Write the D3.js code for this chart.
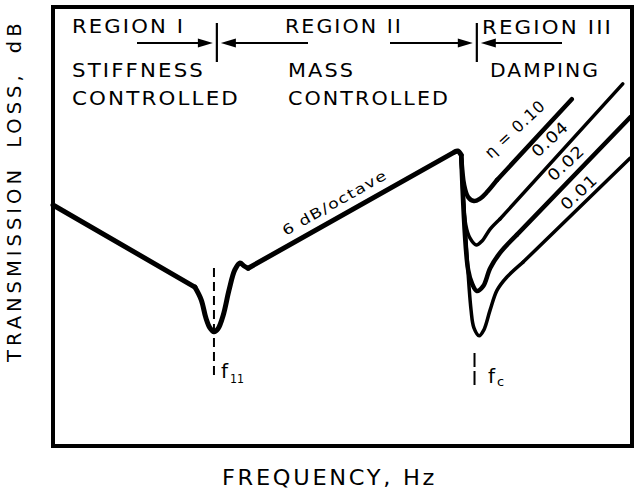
<!DOCTYPE html>
<html><head><meta charset="utf-8">
<script src="https://cdn.jsdelivr.net/npm/d3@7"></script>
<style>html,body{margin:0;padding:0;background:#fff;}svg{display:block;}</style>
</head><body>
<svg id="c" width="640" height="497"></svg>
<script>
// Frequency (relative, 0-100 across the plot) and transmission loss (relative dB, 0-100)
const mainFreq = [0, 24.5, 25.6, 26.4, 27.1, 27.8, 28.5, 29.4, 30.4, 31.4, 32.3, 33.0, 33.7, 69.4, 69.9, 70.5];
const mainTL   = [54.9, 36.2, 33.3, 29.2, 26.9, 26.0, 26.7, 29.8, 35.5, 40.1, 41.7, 41.0, 40.5, 67.0, 67.2, 66.3];

const dampLabels = ["η = 0.10", "0.04", "0.02", "0.01"];
const damp010Freq = [70.5, 71.0, 71.7, 72.7, 73.7, 75.0, 76.7, 89.6];
const damp010TL   = [66.3, 59.5, 56.7, 55.8, 56.3, 57.9, 60.6, 79.0];
const damp004Freq = [70.5, 71.3, 72.0, 73.1, 74.1, 75.5, 77.2, 98.4];
const damp004TL   = [66.3, 50.3, 47.4, 45.8, 46.7, 49.4, 51.7, 82.5];
const damp002Freq = [70.5, 71.7, 72.4, 73.2, 74.3, 75.5, 77.2, 80.1, 99.7];
const damp002TL   = [66.3, 40.1, 36.9, 35.3, 36.4, 40.5, 44.0, 48.1, 74.9];
const damp001Freq = [70.5, 72.2, 72.7, 73.6, 74.4, 75.5, 76.7, 78.4, 81.2, 99.7];
const damp001TL   = [66.3, 31.0, 26.9, 25.1, 26.4, 31.0, 35.5, 38.5, 41.9, 65.6];

const f11 = 27.8, fc = 72.8;   // characteristic frequencies
const regionBounds = [28.3, 73.2];

const svg = d3.select("#c");
const W = 640, H = 497;
const m = {left: 53, right: 8, top: 7, bottom: 51};
const x = d3.scaleLinear().domain([0, 100]).range([m.left, W - m.right]);
const y = d3.scaleLinear().domain([0, 100]).range([H - m.bottom, m.top]);
const FONT = "'DejaVu Sans', Verdana, sans-serif";

// frame
svg.append("rect").attr("x", x(0)).attr("y", y(100)).attr("width", x(100) - x(0)).attr("height", y(0) - y(100))
  .attr("fill", "none").attr("stroke", "#000").attr("stroke-width", 4);

const smooth = d3.line().x(d => x(d[0])).y(d => y(d[1])).curve(d3.curveCatmullRom.alpha(0.5));
const straight = d3.line().x(d => x(d[0])).y(d => y(d[1]));
const zip = (a, b) => a.map((v, i) => [v, b[i]]);

// draws a polyline where listed segment indexes are straight and the rest smooth
function drawCurve(pts, straightSegs, w) {
  const pieces = [];
  let cur = [pts[0]];
  for (let i = 0; i < pts.length - 1; i++) {
    if (straightSegs.includes(i)) {
      if (cur.length > 1) pieces.push({p: cur, s: false});
      pieces.push({p: [pts[i], pts[i + 1]], s: true});
      cur = [pts[i + 1]];
    } else cur.push(pts[i + 1]);
  }
  if (cur.length > 1) pieces.push({p: cur, s: false});
  pieces.forEach(pc => {
    svg.append("path").attr("d", (pc.s ? straight : smooth)(pc.p)).attr("fill", "none").attr("stroke", "#000")
      .attr("stroke-width", w).attr("stroke-linejoin", "round").attr("stroke-linecap", "round");
  });
}

// dashed frequency markers
svg.append("line").attr("x1", x(f11)).attr("x2", x(f11)).attr("y1", 268).attr("y2", 378)
  .attr("stroke", "#000").attr("stroke-width", 2).attr("stroke-dasharray", "9,5");
svg.append("line").attr("x1", x(fc) ).attr("x2", x(fc)).attr("y1", 353).attr("y2", 387)
  .attr("stroke", "#000").attr("stroke-width", 2).attr("stroke-dasharray", "14,4");

const curves = [
  {f: damp010Freq, t: damp010TL, w: 4.5},
  {f: damp004Freq, t: damp004TL, w: 3.5},
  {f: damp002Freq, t: damp002TL, w: 4.5},
  {f: damp001Freq, t: damp001TL, w: 3.5}
];
curves.forEach(c => {
  const pts = zip(c.f, c.t);
  drawCurve(pts, [pts.length - 2], c.w);
});
drawCurve(zip(mainFreq, mainTL), [0, 12], 5);

// text helper
function txt(s, px, py, size, len, opts = {}) {
  const t = svg.append("text").attr("x", px).attr("y", py).attr("font-family", FONT)
    .attr("font-size", size).attr("fill", "#000").text(s);
  if (opts.ls) t.attr("letter-spacing", opts.ls);
  if (opts.ws) t.attr("word-spacing", opts.ws);
  if (len) t.attr("textLength", len).attr("lengthAdjust", "spacingAndGlyphs");
  if (opts.anchor) t.attr("text-anchor", opts.anchor);
  if (opts.rotate !== undefined) t.attr("transform", `rotate(${opts.rotate},${px},${py})`);
  if (opts.baseline) t.attr("dominant-baseline", opts.baseline);
  return t;
}

// header
const hs = {ls: 2};
txt("REGION I", 72, 33, 20, 113, hs);
txt("REGION II", 285, 33, 20, 118, hs);
txt("REGION III", 482, 34, 20, 131, hs);
txt("STIFFNESS", 72, 77, 20, 133, hs);
txt("CONTROLLED", 72, 105, 20, 168, hs);
txt("MASS", 288, 77, 20, 67, hs);
txt("CONTROLLED", 288, 105, 20, 162, hs);
txt("DAMPING", 490, 77, 20, 110, hs);

// region dividers with arrows
function arrowHead(tipX, yy, dir) {
  const p = d3.path();
  p.moveTo(tipX, yy); p.lineTo(tipX - dir * 15, yy - 4.5); p.lineTo(tipX - dir * 15, yy + 4.5); p.closePath();
  svg.append("path").attr("d", p.toString()).attr("fill", "#000");
}
const ay = 43;
[[137, 308, regionBounds[0]], [390, 562, regionBounds[1]]].forEach(([a, b, rb]) => {
  const xb = x(rb);
  svg.append("line").attr("x1", xb).attr("x2", xb).attr("y1", 23).attr("y2", 62).attr("stroke", "#000").attr("stroke-width", 2.2);
  svg.append("line").attr("x1", a).attr("x2", xb - 8).attr("y1", ay).attr("y2", ay).attr("stroke", "#000").attr("stroke-width", 2);
  svg.append("line").attr("x1", xb + 8).attr("x2", b).attr("y1", ay).attr("y2", ay).attr("stroke", "#000").attr("stroke-width", 2);
  arrowHead(xb - 4, ay, 1);
  arrowHead(xb + 4, ay, -1);
});

// slope label
txt("6 dB/octave", 337, 207, 14, 118, {anchor: "middle", rotate: -29.5, ls: 1});

// damping labels
const labelPos = [[515, 129, 76, 16], [550, 139, 44, 16], [566, 163, 44, 16], [579, 192, 44, 16]];
dampLabels.forEach((s, i) => {
  const [px, py, len, fs] = labelPos[i];
  txt(s, px, py, fs, len, {anchor: "middle", rotate: -43, baseline: "central", ls: 1});
});

// frequency labels
txt("f", 221, 378, 20, null);
txt("11", 230, 383, 12, 14);
txt("f", 488, 383, 20, null);
txt("c", 497, 386, 13, null);

// axis titles
txt("FREQUENCY, Hz", 222, 485, 21, 215, {ls: 2.5});
txt("TRANSMISSION LOSS, dB", 21, 362, 19.5, null, {rotate: -90, ls: 4, ws: 8});
</script>
</body></html>
